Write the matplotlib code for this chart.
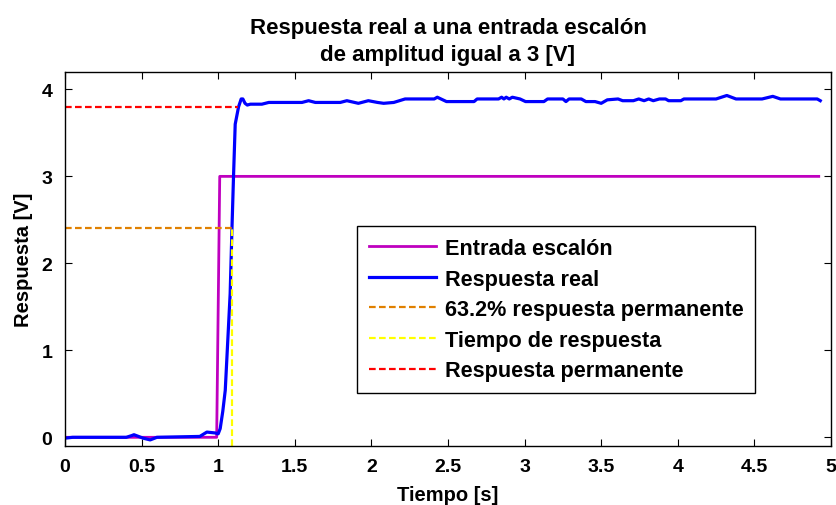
import matplotlib
matplotlib.use("Agg")
import matplotlib.pyplot as plt

plt.rcParams['font.family'] = ['Liberation Sans', 'DejaVu Sans']
plt.rcParams['font.weight'] = 'bold'

# Step input (3 V applied at t = 1 s)
t_input = [0.0, 0.99, 1.01, 4.92]
v_input = [0.0, 0.0, 3.0, 3.0]

# Measured response
t_resp = [0.0, 0.05, 0.10, 0.40, 0.436, 0.45, 0.51, 0.556, 0.60, 0.88,
          0.926, 0.98, 1.00, 1.013, 1.03, 1.046, 1.078, 1.089, 1.10, 1.111,
          1.133, 1.15, 1.161, 1.175, 1.19, 1.21, 1.285, 1.33, 1.547, 1.59,
          1.634, 1.797, 1.84, 1.915, 1.98, 2.04, 2.08, 2.146, 2.22, 2.41,
          2.43, 2.49, 2.67, 2.69, 2.83, 2.85, 2.865, 2.88, 2.90, 2.92,
          2.97, 3.006, 3.126, 3.15, 3.25, 3.27, 3.29, 3.37, 3.40, 3.46,
          3.50, 3.54, 3.61, 3.64, 3.71, 3.745, 3.78, 3.81, 3.84, 3.88,
          3.92, 3.94, 4.02, 4.04, 4.25, 4.32, 4.38, 4.55, 4.62, 4.67,
          4.91, 4.93]
v_resp = [-0.01, 0.0, 0.0, 0.0, 0.02, 0.03, -0.01, -0.03, 0.0, 0.01,
          0.06, 0.05, 0.04, 0.10, 0.30, 0.54, 1.65, 2.35, 3.00, 3.60,
          3.80, 3.89, 3.89, 3.84, 3.82, 3.83, 3.83, 3.85, 3.85, 3.87,
          3.85, 3.85, 3.87, 3.84, 3.87, 3.85, 3.84, 3.85, 3.89, 3.89,
          3.91, 3.86, 3.86, 3.89, 3.89, 3.91, 3.89, 3.91, 3.89, 3.91,
          3.89, 3.86, 3.86, 3.89, 3.89, 3.86, 3.89, 3.89, 3.86, 3.86,
          3.84, 3.88, 3.89, 3.87, 3.87, 3.89, 3.87, 3.89, 3.87, 3.89,
          3.89, 3.87, 3.87, 3.89, 3.89, 3.93, 3.89, 3.89, 3.92, 3.89,
          3.89, 3.87]

# Reference levels
v_steady = 3.8            # steady-state response
v_632 = 0.632 * v_steady  # 63.2 % of steady state
t_response = 1.09         # time at which 63.2 % is reached
t_steady_end = 1.13

x_ticks = [0, 0.5, 1, 1.5, 2, 2.5, 3, 3.5, 4, 4.5, 5]
x_tick_labels = ['0', '0.5', '1', '1.5', '2', '2.5', '3', '3.5', '4', '4.5', '5']
y_ticks = [0, 1, 2, 3, 4]

fig = plt.figure(figsize=(8.37, 5.06), dpi=100)
ax = fig.add_axes([65 / 837, 1 - 447 / 506, 766 / 837, 374 / 506])

dash = (0, (3, 1.5))
ax.plot(t_input, v_input, color='#BF00BF', lw=2.0, label='Entrada escalón')
ax.plot(t_resp, v_resp, color='#0000FF', lw=2.3, label='Respuesta real')
ax.plot([0, t_response], [v_632, v_632], color='#E08000', lw=1.6,
        linestyle=dash, label='63.2% respuesta permanente')
ax.plot([t_response, t_response], [-0.1, v_632], color='#FFFF00', lw=1.6,
        linestyle=dash, label='Tiempo de respuesta')
ax.plot([0, t_steady_end], [v_steady, v_steady], color='#FF0000', lw=1.6,
        linestyle=dash, label='Respuesta permanente')

ax.set_xlim(0, 5)
ax.set_ylim(-0.1, 4.2)
ax.set_xticks(x_ticks)
ax.set_xticklabels(x_tick_labels)
ax.set_yticks(y_ticks)
ax.tick_params(direction='in', length=5, width=0.8, top=True, right=True,
               labelsize=14, pad=9)
for s in ax.spines.values():
    s.set_linewidth(1.0)

ax.set_xlabel('Tiempo [s]', fontsize=14.5, fontweight='bold', labelpad=7)
ax.set_ylabel('Respuesta [V]', fontsize=14.5, fontweight='bold', labelpad=6)
ax.set_title('Respuesta real a una entrada escalón\nde amplitud igual a 3 [V]',
             fontsize=16, fontweight='bold', pad=9, linespacing=1.35)

leg = ax.legend(loc='upper left', bbox_to_anchor=(0.381, 0.588),
                borderaxespad=0, fontsize=15.6, frameon=True, fancybox=False,
                edgecolor='black', framealpha=1, handlelength=3.1,
                handletextpad=0.4, labelspacing=0.44, borderpad=0.55)
leg.get_frame().set_linewidth(1.0)

fig.savefig('out.png', dpi=100)
